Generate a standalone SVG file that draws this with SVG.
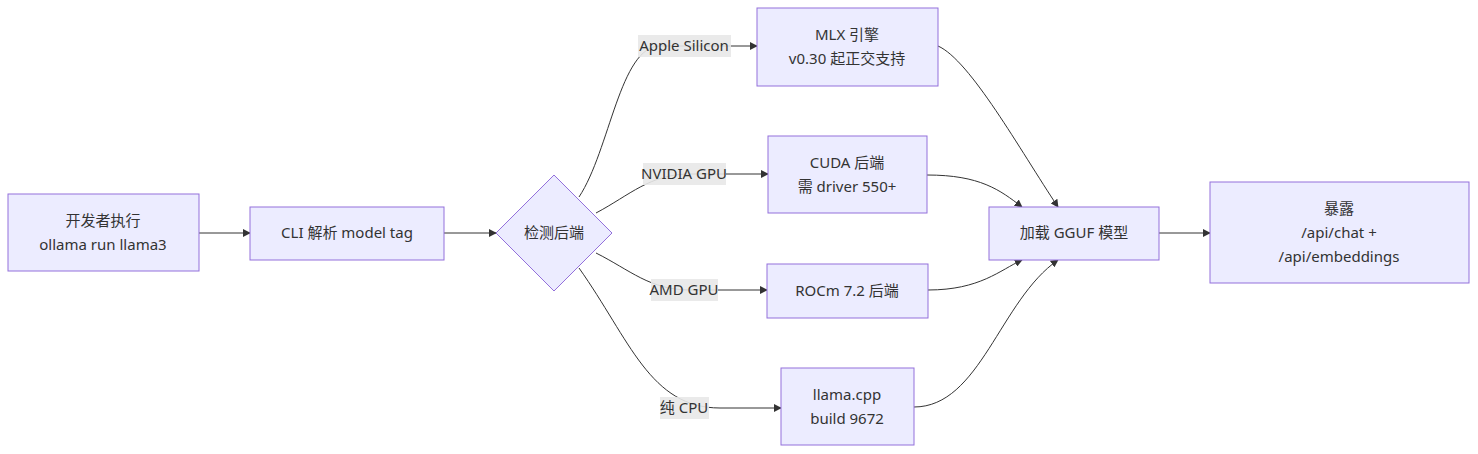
<svg xmlns="http://www.w3.org/2000/svg" width="1478" height="454" viewBox="0 0 1478 454">
<style>
.n{fill:#ECECFF;stroke:#9370DB;stroke-width:1}
text{font-family:"Noto Sans","Noto Sans CJK SC",sans-serif;font-size:15px;fill:#333;text-anchor:middle}
.e{fill:none;stroke:#333;stroke-width:1}
.lb{fill:#e8e8e8;opacity:0.9}
</style>
<defs><marker id="a" viewBox="0 0 10 10" refX="9" refY="5" markerWidth="8" markerHeight="8" orient="auto"><path d="M0,0L10,5L0,10z" fill="#333"/></marker></defs>
<rect width="1478" height="454" fill="#fff"/>
<g id="edges">
<path class="e" marker-end="url(#a)" d="M199,233L250,233"/>
<path class="e" marker-end="url(#a)" d="M444,233L496,233"/>
<path class="e" marker-end="url(#a)" d="M579,197C610,150 620,46 660,46L757,46"/>
<path class="e" marker-end="url(#a)" d="M596,213C630,195 650,174 690,174L768,174"/>
<path class="e" marker-end="url(#a)" d="M596,253C630,270 650,290 690,290L767,290"/>
<path class="e" marker-end="url(#a)" d="M579,268C630,340 650,408 720,408L781,408"/>
<path class="e" marker-end="url(#a)" d="M938,46C970,60 1020,150 1058,207"/>
<path class="e" marker-end="url(#a)" d="M927,175C980,175 1000,190 1022,207"/>
<path class="e" marker-end="url(#a)" d="M928,290C980,290 1000,270 1022,260"/>
<path class="e" marker-end="url(#a)" d="M914,407C980,407 1000,300 1058,260"/>
<path class="e" marker-end="url(#a)" d="M1159,233L1210,233"/>
<rect class="lb" x="638" y="35" width="93" height="22"/><text x="684" y="51">Apple Silicon</text>
<rect class="lb" x="643" y="163" width="83" height="22"/><text x="684" y="179">NVIDIA GPU</text>
<rect class="lb" x="651" y="279" width="67" height="22"/><text x="684" y="295">AMD GPU</text>
<rect class="lb" x="660" y="397" width="49" height="22"/><text x="684" y="413">纯 CPU</text>
</g>
<g id="A"><rect class="n" x="8" y="194" width="191" height="77"/><text x="103" y="226">开发者执行</text><text x="103" y="250">ollama run llama3</text></g>
<g id="B"><rect class="n" x="250" y="207" width="194" height="53"/><text x="347" y="238">CLI 解析 model tag</text></g>
<g id="C"><polygon class="n" points="554,175 612,233 554,291 496,233"/><text x="554" y="238">检测后端</text></g>
<g id="D"><rect class="n" x="757" y="8" width="181" height="78"/><text x="847" y="40">MLX 引擎</text><text x="847" y="64">v0.30 起正交支持</text></g>
<g id="E"><rect class="n" x="768" y="136" width="159" height="77"/><text x="847" y="168">CUDA 后端</text><text x="847" y="192">需 driver 550+</text></g>
<g id="F"><rect class="n" x="767" y="264" width="161" height="54"/><text x="847" y="296">ROCm 7.2 后端</text></g>
<g id="G"><rect class="n" x="781" y="368" width="133" height="77"/><text x="847" y="400">llama.cpp</text><text x="847" y="424">build 9672</text></g>
<g id="H"><rect class="n" x="989" y="207" width="170" height="53"/><text x="1074" y="238">加载 GGUF 模型</text></g>
<g id="I"><rect class="n" x="1210" y="182" width="259" height="101"/><text x="1339" y="214">暴露</text><text x="1339" y="238">/api/chat +</text><text x="1339" y="262">/api/embeddings</text></g>
</svg>
